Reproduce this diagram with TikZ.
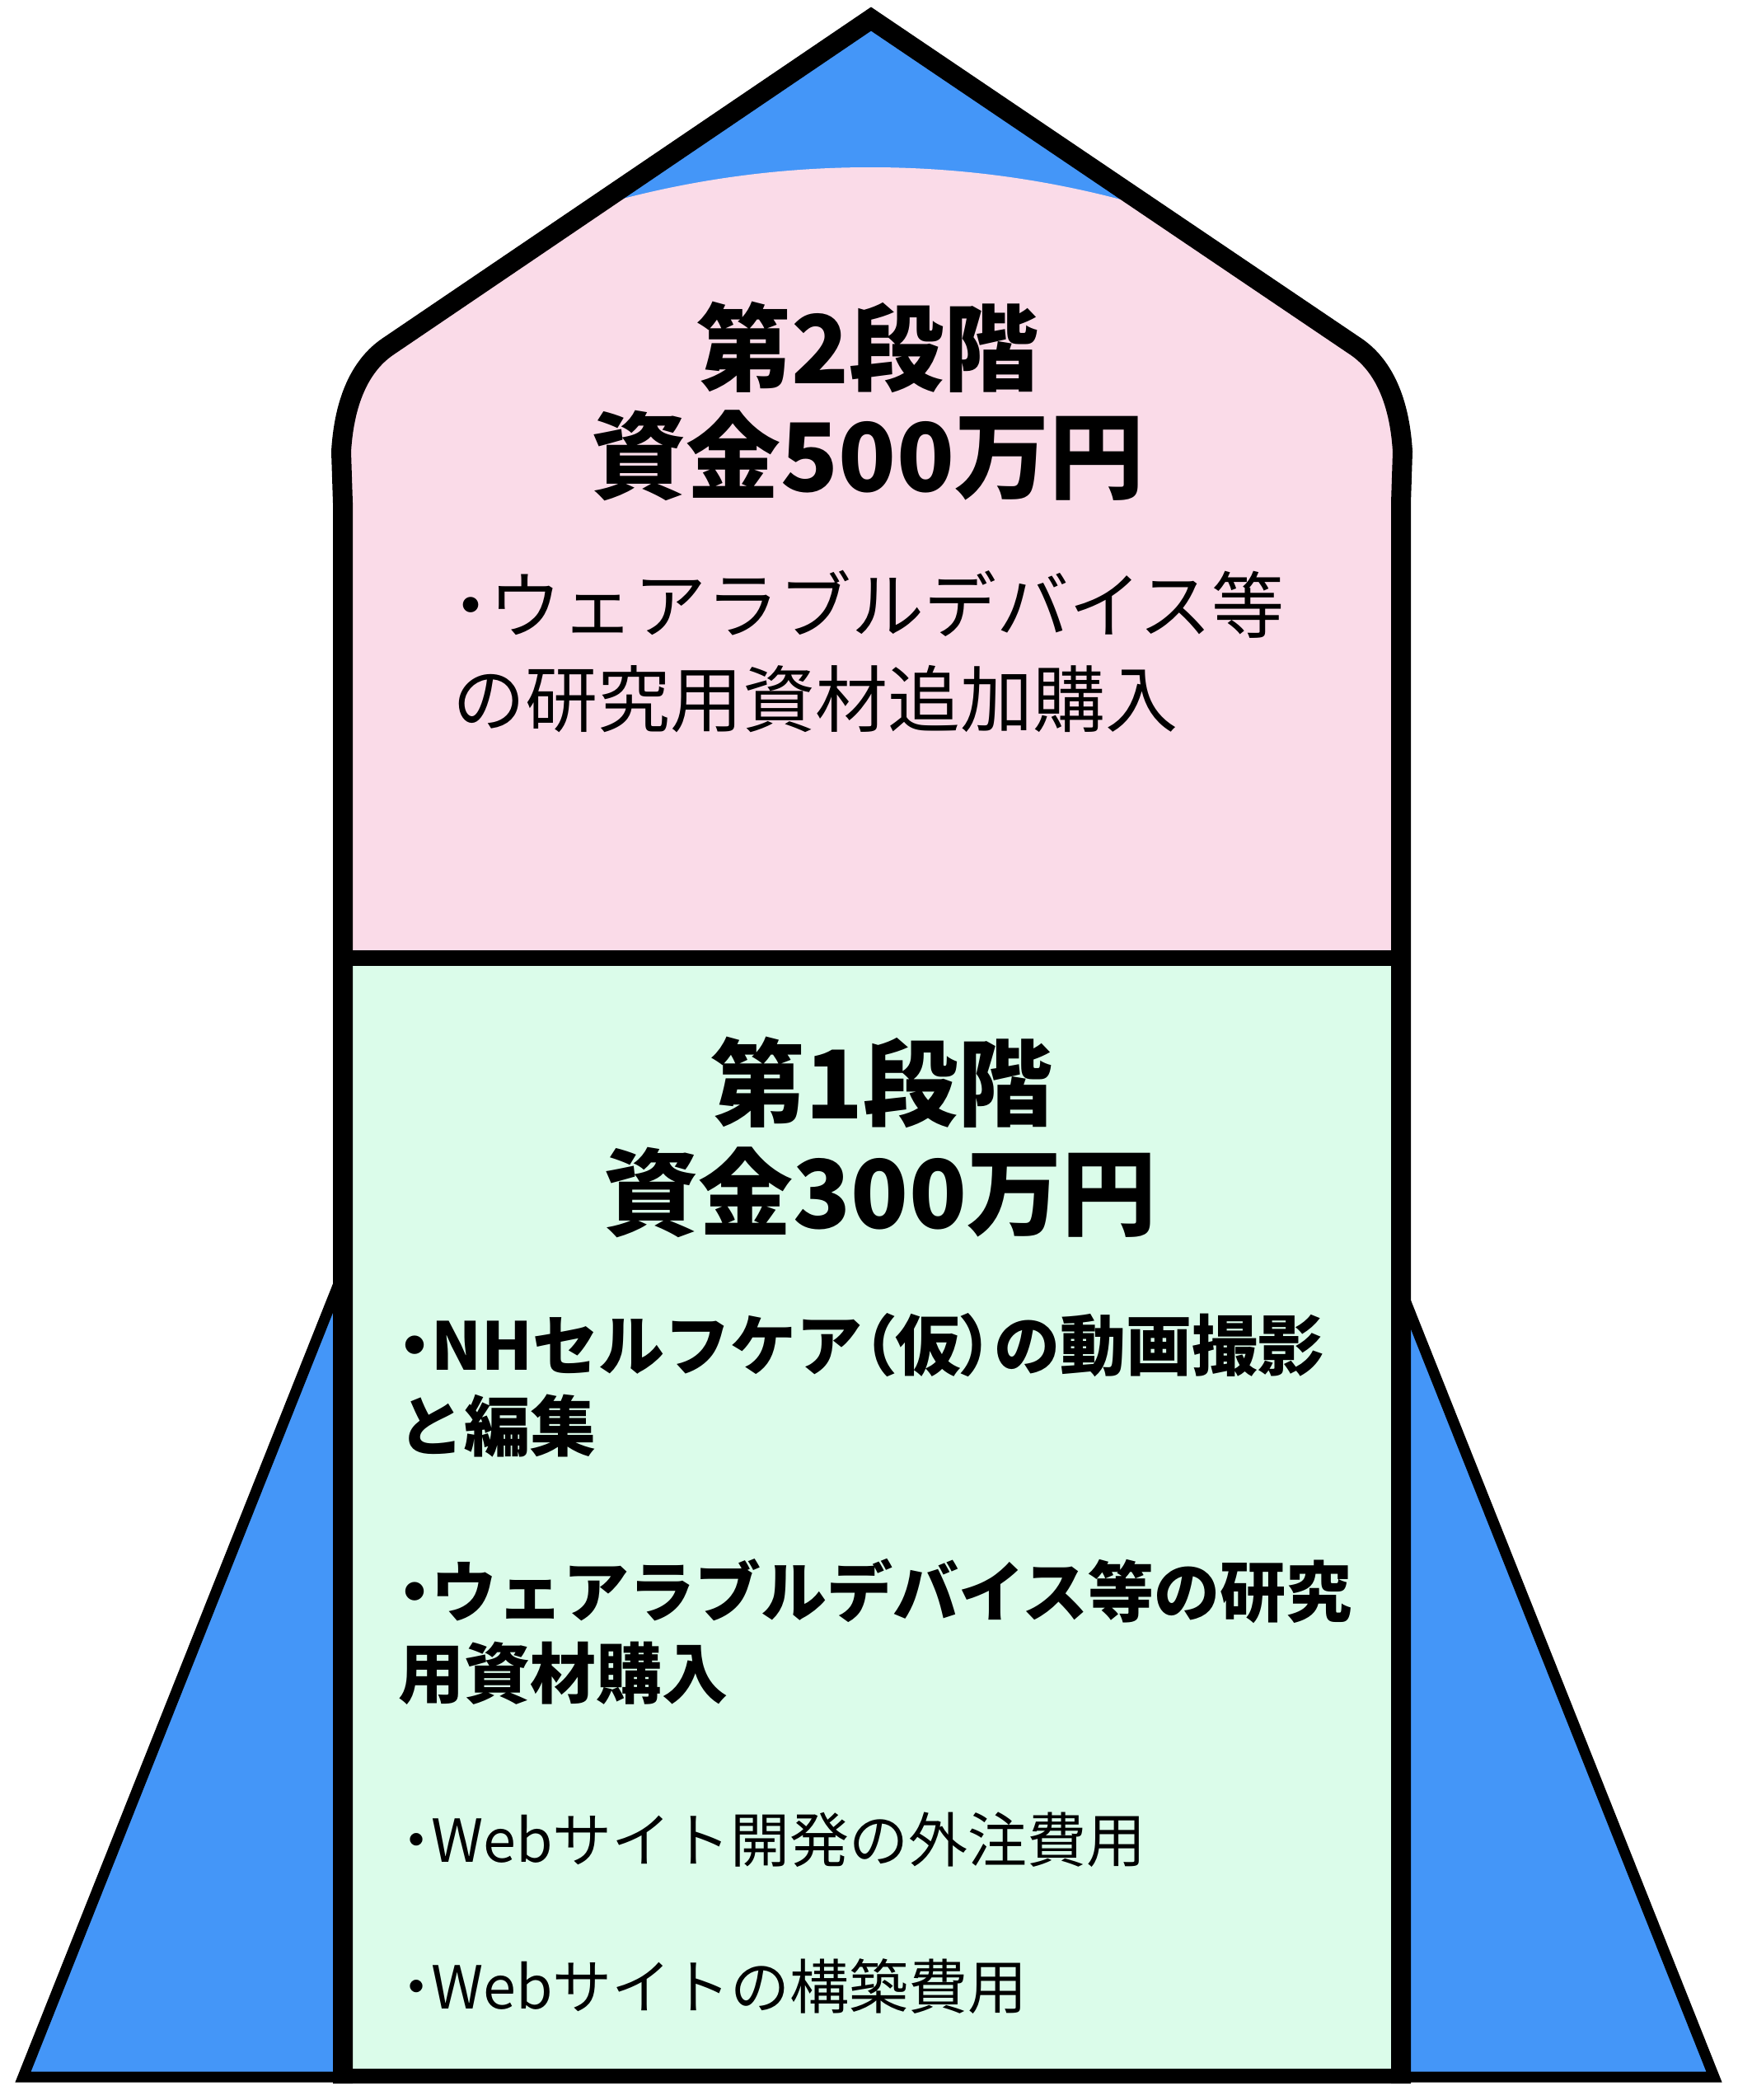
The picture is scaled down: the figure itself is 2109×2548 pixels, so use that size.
\documentclass[tikz,border=0pt]{standalone}
\usepackage{fontspec}
\setmainfont{Noto Sans CJK JP}
\definecolor{rocketblue}{HTML}{4496F8}
\definecolor{rocketpink}{HTML}{FADBE8}
\definecolor{rocketgreen}{HTML}{DBFCEA}
\newcommand{\pdot}{{\addfontfeature{RawFeature=+palt}・}}
\newcommand{\plp}{{\addfontfeature{RawFeature=+palt}（}}
\newcommand{\prp}{{\addfontfeature{RawFeature=+palt}）}}
\tikzset{
  txt/.style={inner sep=0pt, outer sep=0pt},
  headtxt/.style={txt, anchor=base, font=\fontsize{115}{138}\selectfont\bfseries},
  pinktxt/.style={txt, anchor=base west, font=\fontsize{88}{114}\selectfont},
  boldtxt/.style={txt, anchor=base west, font=\fontsize{80}{96}\selectfont\bfseries},
  regtxt/.style={txt, anchor=base west, font=\fontsize{72}{90}\selectfont},
  fin/.style={fill=rocketblue, draw=black, line width=13pt, line join=miter},
  hull/.style={draw=black, line width=24pt, line join=miter},
}
\begin{document}
\begin{tikzpicture}[x=1pt,y=-1pt]
\useasboundingbox (0,0) rectangle (2109,2548);
\fill[white] (0,0) rectangle (2109,2548);
% fins
\path[fin] (416,1545) -- (28,2520) -- (416,2520) -- cycle;
\path[fin] (1700,1565) -- (2080,2520) -- (1700,2520) -- cycle;
% upper section (nose)
\begin{scope}
  \clip (416,1162) -- (416,610) -- (414,548) .. controls (418,480) and (441,441) .. (470,421)
        -- (1057,23) -- (1646,421) .. controls (1675,441) and (1698,480) .. (1702,548)
        -- (1700,610) -- (1700,1162) -- cycle;
  \fill[rocketblue] (0,0) rectangle (2109,1162);
  \fill[rocketpink] (1056,1395) circle[radius=1192pt];
\end{scope}
% lower section
\fill[rocketgreen] (416,1162) rectangle (1700,2519);
% outline
\draw[hull] (416,2528) -- (416,610) -- (414,548) .. controls (418,480) and (441,441) .. (470,421)
        -- (1057,23) -- (1646,421) .. controls (1675,441) and (1698,480) .. (1702,548)
        -- (1700,610) -- (1700,2528);
\draw[black, line width=19pt] (404,1162) -- (1712,1162);
\draw[black, line width=18pt] (404,2519) -- (1712,2519);
% texts
\node[headtxt] (h2a) at (1053,465) {第2段階};
\node[headtxt] (h2b) at (1053,596) {資金500万円};
\node[pinktxt] (p1a) at (549,767) {\pdot ウェアラブルデバイス等};
\node[pinktxt] (p1b) at (549,881) {の研究用資材追加購入};
\node[headtxt] (h1a) at (1070,1357) {第1段階};
\node[headtxt] (h1b) at (1068,1490) {資金300万円};
\node[boldtxt] (g1a) at (483,1662) {\pdot NHセルフケア\plp 仮\prp の動画撮影};
\node[boldtxt] (g1b) at (483,1760) {と編集};
\node[boldtxt] (g2a) at (483,1961) {\pdot ウェアラブルデバイス等の研究};
\node[boldtxt] (g2b) at (483,2060) {用資材購入};
\node[regtxt] (g3) at (487,2259) {\pdot Webサイト開発の外注費用};
\node[regtxt] (g4) at (487,2437) {\pdot Webサイトの構築費用};
\end{tikzpicture}
\end{document}
